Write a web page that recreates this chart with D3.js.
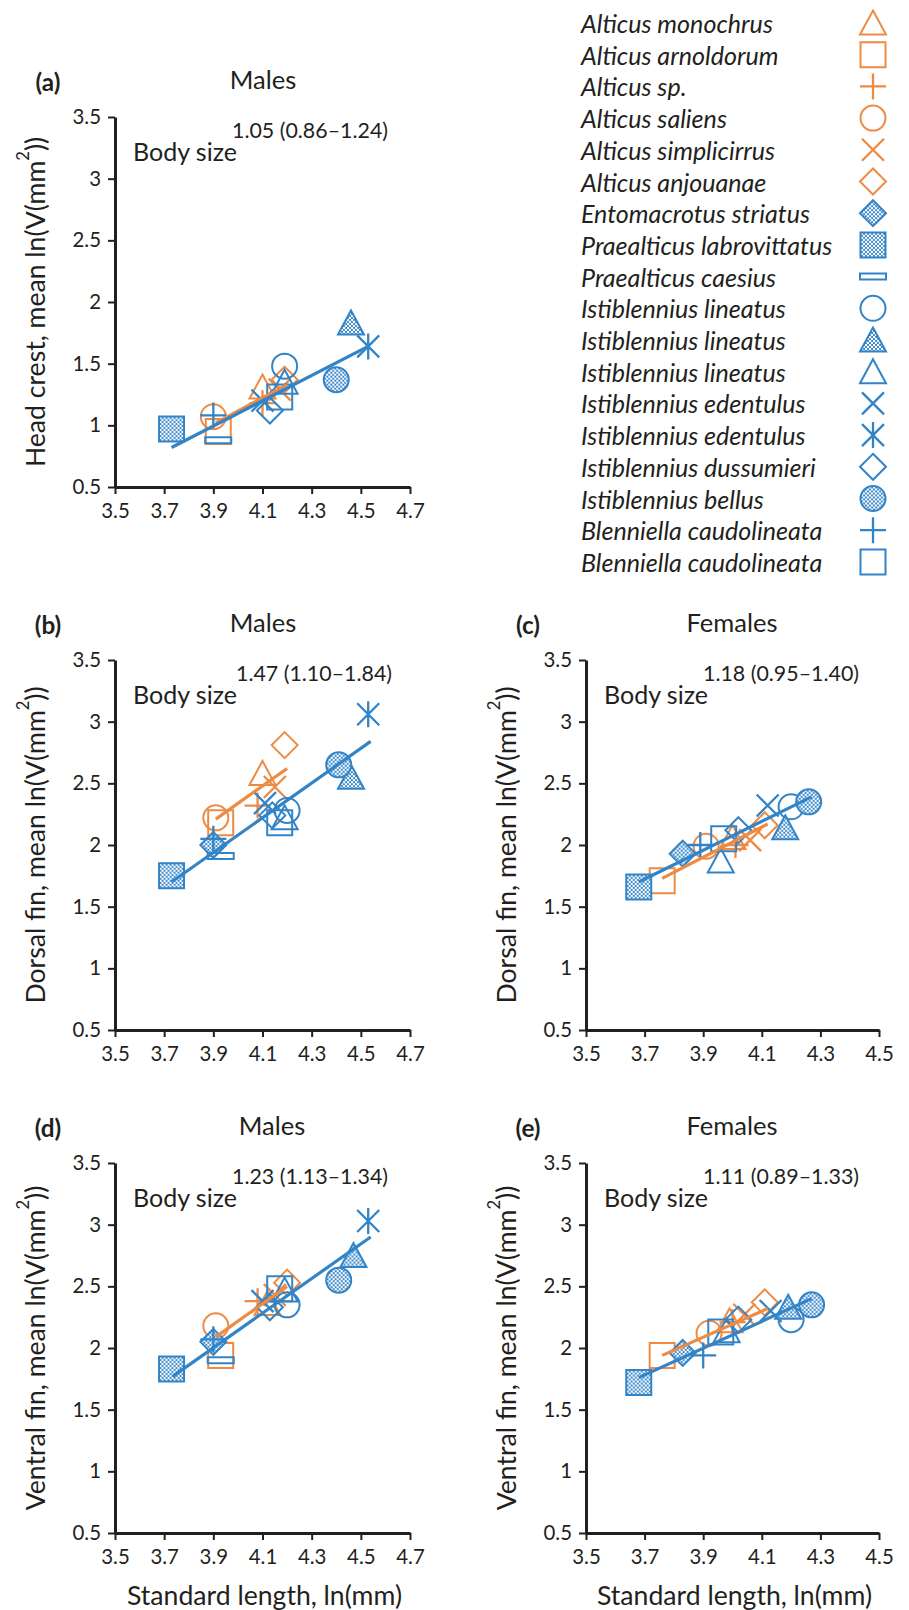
<!DOCTYPE html>
<html>
<head>
<meta charset="utf-8">
<script src="https://cdn.jsdelivr.net/npm/d3@7"></script>
<style>
  html, body { margin: 0; padding: 0; background: #ffffff; }
  svg { display: block; }
</style>
</head>
<body>
<script>
// ---------------- DATA ----------------
const species = [
  "Alticus monochrus", "Alticus arnoldorum", "Alticus sp.", "Alticus saliens",
  "Alticus simplicirrus", "Alticus anjouanae", "Entomacrotus striatus",
  "Praealticus labrovittatus", "Praealticus caesius", "Istiblennius lineatus",
  "Istiblennius lineatus", "Istiblennius lineatus", "Istiblennius edentulus",
  "Istiblennius edentulus", "Istiblennius dussumieri", "Istiblennius bellus",
  "Blenniella caudolineata", "Blenniella caudolineata"
];
const genusGroup = [
  "Alticus", "Alticus", "Alticus", "Alticus", "Alticus", "Alticus",
  "Other", "Other", "Other", "Other", "Other", "Other",
  "Other", "Other", "Other", "Other", "Other", "Other"
];

const yTickValues = [0.5, 1, 1.5, 2, 2.5, 3, 3.5];
const xTickMales = [3.5, 3.7, 3.9, 4.1, 4.3, 4.5, 4.7];
const xTickFemales = [3.5, 3.7, 3.9, 4.1, 4.3, 4.5];

// (a) head crest, males : standard length ln(mm) and mean ln(V(mm^2))
const slA = [4.10, 3.92, 4.10, 3.90, 4.17, 4.19, null, 3.73, 3.92, 4.19, 4.46, 4.19, 4.10, 4.53, 4.13, 4.40, 3.90, 4.17];
const valA = [1.31, 0.95, 1.18, 1.07, 1.29, 1.37, null, 0.97, 0.88, 1.48, 1.83, 1.35, 1.20, 1.64, 1.12, 1.37, 1.08, 1.23];
// (b) dorsal fin, males
const slB = [4.10, 3.93, 4.08, 3.91, 4.15, 4.19, 3.90, 3.73, 3.93, 4.20, 4.46, 4.19, 4.11, 4.53, 4.14, 4.41, 3.90, 4.17];
const valB = [2.58, 2.18, 2.32, 2.22, 2.47, 2.81, 2.00, 1.75, 1.91, 2.28, 2.55, 2.22, 2.34, 3.06, 2.24, 2.65, 2.05, 2.18];
// (c) dorsal fin, females
const slC = [4.00, 3.76, 4.01, 3.91, 4.06, 4.11, 3.83, 3.68, null, 4.20, 4.18, 3.96, 4.12, null, 4.02, 4.26, 3.89, 3.97];
const valC = [2.06, 1.71, 2.00, 1.99, 2.04, 2.16, 1.93, 1.66, null, 2.31, 2.14, 1.87, 2.32, null, 2.12, 2.35, 2.00, 2.05];
// (d) ventral fin, males
const slD = [4.12, 3.93, 4.08, 3.91, 4.15, 4.20, 3.90, 3.73, 3.93, 4.20, 4.47, 4.19, 4.10, 4.53, 4.13, 4.41, 3.90, 4.17];
const valD = [2.36, 1.94, 2.38, 2.18, 2.43, 2.53, 2.05, 1.83, 1.90, 2.35, 2.75, 2.47, 2.38, 3.03, 2.33, 2.55, 2.07, 2.48];
// (e) ventral fin, females
const slE = [3.99, 3.76, 4.00, 3.92, 4.04, 4.11, 3.83, 3.68, null, 4.20, 4.19, 3.98, 4.13, null, 4.02, 4.27, 3.90, 3.96];
const valE = [2.22, 1.94, 2.21, 2.12, 2.27, 2.37, 1.96, 1.72, null, 2.23, 2.33, 2.14, 2.30, null, 2.23, 2.35, 1.94, 2.13];

// fitted lines: [x1, y1, x2, y2]
const fitA = { Alticus: [3.91, 1.02, 4.20, 1.33], Other: [3.73, 0.82, 4.53, 1.64] };
const fitB = { Alticus: [3.91, 2.21, 4.20, 2.62], Other: [3.73, 1.70, 4.54, 2.84] };
const fitC = { Alticus: [3.76, 1.73, 4.12, 2.17], Other: [3.68, 1.70, 4.27, 2.39] };
const fitD = { Alticus: [3.91, 2.09, 4.20, 2.50], Other: [3.735, 1.77, 4.54, 2.90] };
const fitE = { Alticus: [3.76, 1.94, 4.12, 2.32], Other: [3.68, 1.76, 4.27, 2.40] };

const coefA = "1.05 (0.86–1.24)";
const coefB = "1.47 (1.10–1.84)";
const coefC = "1.18 (0.95–1.40)";
const coefD = "1.23 (1.13–1.34)";
const coefE = "1.11 (0.89–1.33)";

// ---------------- STYLE ----------------
const ORANGE = "#ED8B45";
const BLUE = "#3384C7";
const INK = "#231f20";
const groupColor = { Alticus: ORANGE, Other: BLUE };
const markerStyle = [
  { shape: "triangle" }, { shape: "square" }, { shape: "plus" }, { shape: "circle" },
  { shape: "cross" }, { shape: "diamond" }, { shape: "diamond", filled: true },
  { shape: "square", filled: true }, { shape: "dash" }, { shape: "circle" },
  { shape: "triangle", filled: true }, { shape: "triangle" }, { shape: "cross" },
  { shape: "asterisk" }, { shape: "diamond" }, { shape: "circle", filled: true },
  { shape: "plus" }, { shape: "square" }
];

const panels = [
  { label: "(a)", title: "Males", yName: "Head crest", sl: slA, val: valA, fit: fitA, coef: coefA,
    xTicks: xTickMales, x0: 115, y0: 117, w: 295, labelX: 48, titleX: 263, coefDX: 117, xTitle: false },
  { label: "(b)", title: "Males", yName: "Dorsal fin", sl: slB, val: valB, fit: fitB, coef: coefB,
    xTicks: xTickMales, x0: 115, y0: 660, w: 295, labelX: 48, titleX: 263, coefDX: 121, xTitle: false },
  { label: "(c)", title: "Females", yName: "Dorsal fin", sl: slC, val: valC, fit: fitC, coef: coefC,
    xTicks: xTickFemales, x0: 586, y0: 660, w: 293, labelX: 528, titleX: 732, coefDX: 117, xTitle: false },
  { label: "(d)", title: "Males", yName: "Ventral fin", sl: slD, val: valD, fit: fitD, coef: coefD,
    xTicks: xTickMales, x0: 115, y0: 1163, w: 295, labelX: 48, titleX: 272, coefDX: 117, xTitle: true },
  { label: "(e)", title: "Females", yName: "Ventral fin", sl: slE, val: valE, fit: fitE, coef: coefE,
    xTicks: xTickFemales, x0: 586, y0: 1163, w: 293, labelX: 528, titleX: 732, coefDX: 117, xTitle: true }
];
const PH = 370;

const svg = d3.select("body").append("svg")
  .attr("width", 909).attr("height", 1610)
  .style("font-family", "Lato, 'Open Sans', sans-serif");

// font-size fitting against measured reference widths
const meas = svg.append("text").attr("visibility", "hidden");
function fitSize(str, target, weight, style) {
  meas.attr("font-size", 100).attr("font-weight", weight || "normal")
      .attr("font-style", style || "normal").text(str);
  const w = meas.node().getComputedTextLength();
  return +(100 * target / w).toFixed(2);
}
const FS = {
  tick: fitSize("3.5", 28.5),
  label: fitSize("(b)", 26.5, "bold"),
  title: fitSize("Males", 66.5),
  body: fitSize("Body size", 104),
  coef: fitSize("1.47 (1.10–1.84)", 156),
  legend: fitSize("Alticus monochrus", 192, "normal", "italic"),
  axisTitle: fitSize("Standard length, ln(mm)", 275)
};
meas.remove();

// pattern for filled markers
const defs = svg.append("defs");
const pat = defs.append("pattern").attr("id", "mesh")
  .attr("patternUnits", "userSpaceOnUse").attr("width", 4).attr("height", 4);
pat.append("rect").attr("width", 4).attr("height", 4).attr("fill", BLUE);
pat.append("circle").attr("cx", 1).attr("cy", 1).attr("r", 1.25).attr("fill", "#ffffff");
pat.append("circle").attr("cx", 3).attr("cy", 3).attr("r", 1.25).attr("fill", "#ffffff");

const shapePaths = {
  triangle: "M0,-12.5L13,11.5L-13,11.5Z",
  square: "M-12.5,-12.5H12.5V12.5H-12.5Z",
  diamond: "M0,-13L13,0L0,13L-13,0Z",
  cross: "M-11,-11L11,11M-11,11L11,-11",
  plus: "M-13,0H13M0,-13V13",
  asterisk: "M-11,-11L11,11M-11,11L11,-11M0,-13V13",
  dash: "M-13,-3H13V3H-13Z"
};
function drawMarker(g, idx) {
  const st = markerStyle[idx];
  const col = groupColor[genusGroup[idx]];
  const fill = st.filled ? "url(#mesh)" : "none";
  let el;
  if (st.shape === "circle") {
    el = g.append("circle").attr("r", 12.5);
  } else {
    el = g.append("path").attr("d", shapePaths[st.shape]);
  }
  el.attr("fill", fill).attr("stroke", col)
    .attr("stroke-width", (st.shape === "plus" || st.shape === "asterisk" || st.shape === "cross") ? 2.3 : 2)
    .attr("stroke-linejoin", "miter");
}

panels.forEach(p => {
  const x = d3.scaleLinear().domain([p.xTicks[0], p.xTicks[p.xTicks.length - 1]]).range([p.x0, p.x0 + p.w]);
  const y = d3.scaleLinear().domain([0.5, 3.5]).range([p.y0 + PH, p.y0]);
  const g = svg.append("g");

  // axes
  const yAxis = d3.axisLeft(y).tickValues(yTickValues).tickFormat(d3.format(""))
    .tickSize(7).tickSizeOuter(0).tickPadding(7);
  const xAxis = d3.axisBottom(x).tickValues(p.xTicks).tickFormat(d3.format(""))
    .tickSize(7).tickSizeOuter(0).tickPadding(6);
  const ya = g.append("g").attr("transform", `translate(${p.x0},0)`).call(yAxis);
  const xa = g.append("g").attr("transform", `translate(0,${p.y0 + PH})`).call(xAxis);
  [ya, xa].forEach(a => {
    a.select(".domain").attr("stroke", INK).attr("stroke-width", 3);
    a.selectAll(".tick line").attr("stroke", INK).attr("stroke-width", 2);
    a.selectAll(".tick text").attr("fill", INK).attr("font-size", FS.tick)
      .attr("font-family", "Lato, 'Open Sans', sans-serif");
  });
  xa.selectAll(".tick text").attr("dy", "0.9em");

  // markers
  p.sl.forEach((sv, i) => {
    if (sv === null || p.val[i] === null) return;
    const mg = g.append("g").attr("transform", `translate(${x(sv)},${y(p.val[i])})`);
    drawMarker(mg, i);
  });

  // fitted lines
  ["Alticus", "Other"].forEach(k => {
    const f = p.fit[k];
    g.append("line")
      .attr("x1", x(f[0])).attr("y1", y(f[1])).attr("x2", x(f[2])).attr("y2", y(f[3]))
      .attr("stroke", groupColor[k]).attr("stroke-width", 3.2).attr("stroke-linecap", "butt");
  });

  // texts
  g.append("text").attr("x", p.labelX).attr("y", p.y0 - 36).attr("text-anchor", "middle")
    .attr("dominant-baseline", "central").attr("font-weight", "bold").attr("font-size", FS.label)
    .attr("fill", INK).text(p.label);
  g.append("text").attr("x", p.titleX).attr("y", p.y0 - 38).attr("text-anchor", "middle")
    .attr("dominant-baseline", "central").attr("font-size", FS.title).attr("fill", INK).text(p.title);
  g.append("text").attr("x", p.x0 + 18).attr("y", p.y0 + 44).attr("font-size", FS.body)
    .attr("fill", INK).text("Body size");
  g.append("text").attr("x", p.x0 + p.coefDX).attr("y", p.y0 + 21).attr("font-size", FS.coef)
    .attr("fill", INK).text(p.coef);

  const yt = g.append("text")
    .attr("transform", `translate(${p.x0 - 80},${p.y0 + PH / 2}) rotate(-90)`)
    .attr("text-anchor", "middle").attr("dominant-baseline", "central")
    .attr("font-size", FS.axisTitle).attr("fill", INK);
  yt.append("tspan").text(p.yName + ", mean ln(V(mm");
  yt.append("tspan").attr("font-size", FS.axisTitle * 0.62).attr("dy", "-0.75em").text("2");
  yt.append("tspan").attr("dy", "0.47em").text("))");

  if (p.xTitle) {
    g.append("text").attr("x", p.x0 + p.w / 2 + 2).attr("y", p.y0 + PH + 62)
      .attr("text-anchor", "middle").attr("dominant-baseline", "central")
      .attr("font-size", FS.axisTitle).attr("fill", INK).text("Standard length, ln(mm)");
  }
});

// legend
const lg = svg.append("g");
species.forEach((s, i) => {
  const cy = 23 + i * 31.7;
  lg.append("text").attr("x", 581).attr("y", cy).attr("dominant-baseline", "central")
    .attr("font-style", "italic").attr("font-size", FS.legend).attr("fill", INK).text(s);
  const mg = lg.append("g").attr("transform", `translate(873,${cy})`);
  drawMarker(mg, i);
});
</script>
</body>
</html>
